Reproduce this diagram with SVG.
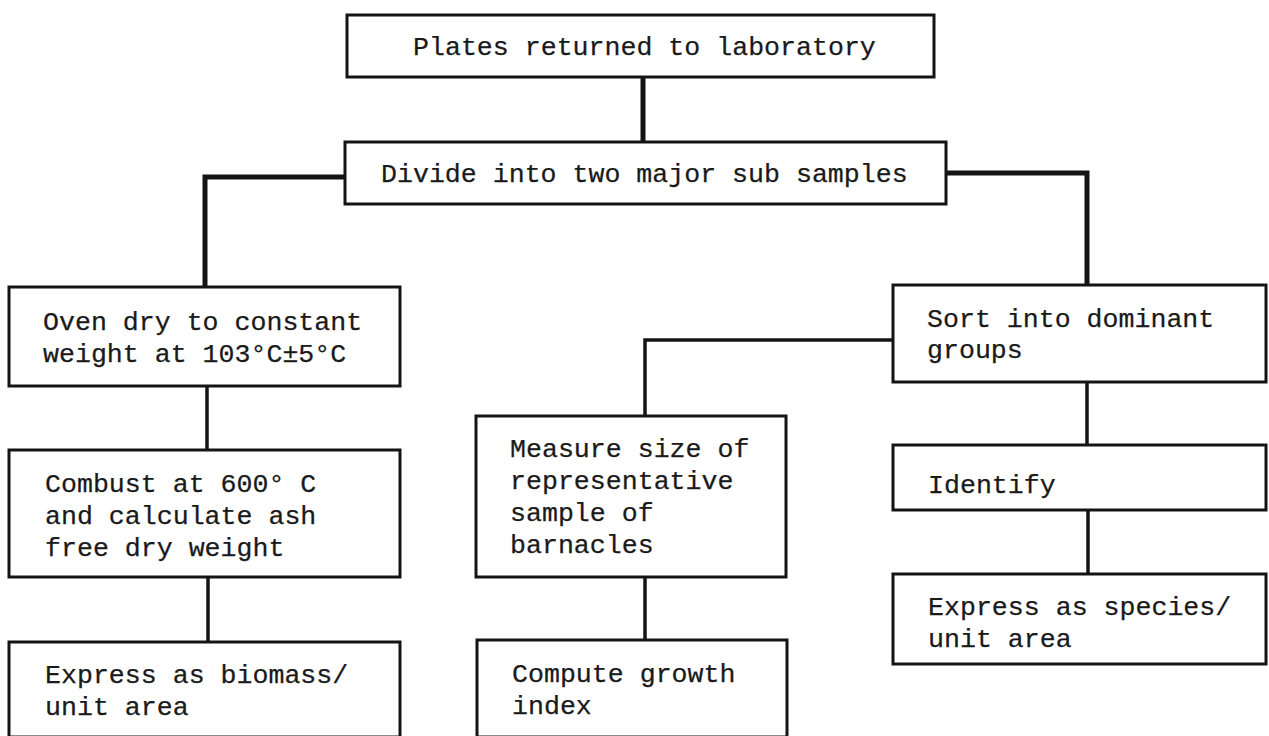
<svg xmlns="http://www.w3.org/2000/svg" width="1269" height="736" viewBox="0 0 1269 736">
<style>
.box{fill:#fff;stroke:#141414;stroke-width:3}
.t{font-family:"Liberation Mono","DejaVu Sans Mono",monospace;font-size:26.6px;fill:#1a1a1a;stroke:#1a1a1a;stroke-width:0.25}
.c{fill:none;stroke:#141414;stroke-width:3.5}
.ct{fill:none;stroke:#141414;stroke-width:5}
</style>
<rect width="1269" height="736" fill="#fff"/>
<g id="connectors">
<path class="ct" d="M643,77 V142"/>
<path class="ct" d="M345,177 H205 V287"/>
<path class="ct" d="M945,173 H1087 V285"/>
<path class="c" d="M207,386 V450"/>
<path class="c" d="M208,577 V642"/>
<path class="c" d="M893,340 H645 V416"/>
<path class="c" d="M645,577 V640"/>
<path class="c" d="M1087,382 V445"/>
<path class="c" d="M1088,510 V574"/>
</g>
<g id="n-plates">
<rect class="box" x="347" y="15" width="587" height="62"/>
<text class="t" x="413" y="55">Plates returned to laboratory</text>
</g>
<g id="n-divide">
<rect class="box" x="345" y="142" width="601" height="62"/>
<text class="t" x="381" y="182">Divide into two major sub samples</text>
</g>
<g id="n-oven">
<rect class="box" x="9" y="287" width="391" height="99"/>
<text class="t" x="43" y="330">Oven dry to constant</text>
<text class="t" x="43" y="362">weight at 103°C±5°C</text>
</g>
<g id="n-combust">
<rect class="box" x="9" y="450" width="391" height="127"/>
<text class="t" x="45" y="492">Combust at 600° C</text>
<text class="t" x="45" y="524">and calculate ash</text>
<text class="t" x="45" y="556">free dry weight</text>
</g>
<g id="n-biomass">
<rect class="box" x="9" y="642" width="391" height="95"/>
<text class="t" x="45" y="683">Express as biomass/</text>
<text class="t" x="45" y="715">unit area</text>
</g>
<g id="n-measure">
<rect class="box" x="476" y="416" width="310" height="161"/>
<text class="t" x="510" y="457">Measure size of</text>
<text class="t" x="510" y="489">representative</text>
<text class="t" x="510" y="521">sample of</text>
<text class="t" x="510" y="553">barnacles</text>
</g>
<g id="n-compute">
<rect class="box" x="477" y="640" width="310" height="97"/>
<text class="t" x="512" y="682">Compute growth</text>
<text class="t" x="512" y="714">index</text>
</g>
<g id="n-sort">
<rect class="box" x="893" y="285" width="373" height="97"/>
<text class="t" x="927" y="327">Sort into dominant</text>
<text class="t" x="927" y="358">groups</text>
</g>
<g id="n-identify">
<rect class="box" x="893" y="445" width="373" height="65"/>
<text class="t" x="928" y="493">Identify</text>
</g>
<g id="n-species">
<rect class="box" x="893" y="574" width="373" height="90"/>
<text class="t" x="928" y="615">Express as species/</text>
<text class="t" x="928" y="647">unit area</text>
</g>
</svg>
